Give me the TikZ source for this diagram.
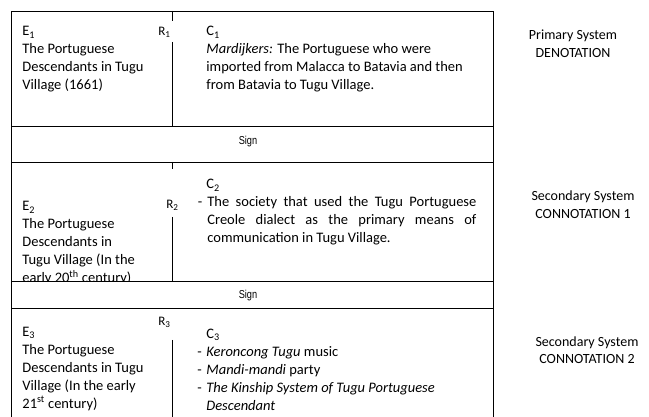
\documentclass[tikz,border=0pt]{standalone}
\usepackage{fontspec}
\setmainfont{Carlito}
\newfontfamily\signfont[FakeStretch=0.8]{Liberation Sans}
\newcommand{\itemdash}{\makebox[9pt][l]{-}}

\begin{document}
\begin{tikzpicture}[x=1pt,y=-1pt,line width=0.8pt,
	txt/.style={anchor=base west,inner sep=0pt,align=left,font=\fontsize{14.5}{18}\selectfont},
	sys/.style={anchor=base,inner sep=0pt,align=center,font=\fontsize{14}{17.5}\selectfont},
	signlbl/.style={inner sep=0pt,font=\signfont\fontsize{11.5}{13}\selectfont},
	rel/.style={anchor=base west,inner sep=0pt,font=\fontsize{13}{14}\selectfont}]
	\useasboundingbox (0,0) rectangle (649,417);

	% table frame and rows
	\draw (11,417) -- (11,11) -- (493,11) -- (493,417);
	\draw (11,126) -- (493,126);
	\draw (11,162) -- (493,162);
	\draw (11,281) -- (493,281);
	\draw (11,308) -- (493,308);

	% primary system (anchors sit on the last line)
	\node[txt] (e1) at (22,90) {E\textsubscript{1}\\The Portuguese\\Descendants in Tugu\\Village (1661)};
	\node[rel] (r1) at (158,36) {R\textsubscript{1}};
	\node[txt] (c1) at (206,90) {C\textsubscript{1}\\\textit{Mardijkers:} The Portuguese who were\\imported from Malacca to Batavia and then\\from Batavia to Tugu Village.};
	\draw (172,11) -- (172,21);
	\draw (172,42) -- (172,126);
	\node[signlbl] (sign1) at (248,142) {Sign};

	% secondary system 1
	\begin{scope}
		\clip (11,162) rectangle (172,281);
		\node[txt] (e2) at (22,283) {E\textsubscript{2}\\The Portuguese\\Descendants in\\Tugu Village (In the\\early 20\textsuperscript{th} century)};
	\end{scope}
	\node[rel] (r2) at (166,209) {R\textsubscript{2}};
	\node[txt] (c2) at (206,189) {C\textsubscript{2}};
	\node[txt,text width=269pt,align=justify] (c2body) at (207,207)
		{\llap{-\hspace{5pt}}The society that used the Tugu Portuguese\linebreak Creole dialect as the primary means of\linebreak communication in Tugu Village.};
	\draw (172,162) -- (172,169);
	\draw (172,217) -- (172,281);
	\node[signlbl] (sign2) at (248,296) {Sign};

	% secondary system 2
	\node[txt] (e3) at (22,408) {E\textsubscript{3}\\The Portuguese\\Descendants in Tugu\\Village (In the early\\21\textsuperscript{st} century)};
	\node[rel] (r3) at (158,326) {R\textsubscript{3}};
	\node[txt] (c3) at (206,338) {C\textsubscript{3}};
	\node[txt] (c3body) at (197,410) {\itemdash\textit{Keroncong Tugu} music\\\itemdash\textit{Mandi-mandi} party\\\itemdash\textit{The Kinship System of Tugu Portuguese}\\\hspace*{9pt}\textit{Descendant}};
	\draw (172,340) -- (172,417);

	% system labels
	\node[sys] (prim) at (573,57.5) {Primary System\\DENOTATION};
	\node[sys] (con1) at (583,218.5) {Secondary System\\CONNOTATION 1};
	\node[sys] (con2) at (587,363.5) {Secondary System\\CONNOTATION 2};
\end{tikzpicture}
\end{document}
